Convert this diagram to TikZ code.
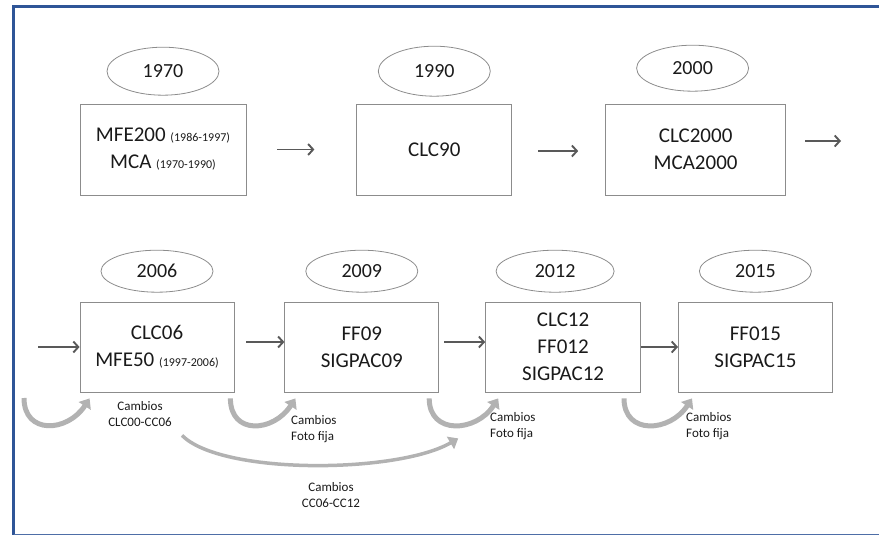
\documentclass[tikz,border=0pt]{standalone}
\usepackage{fontspec}
\setmainfont{Carlito}
\usepackage{tikz}
\usetikzlibrary{shapes.geometric, arrows.meta, positioning, calc}
\definecolor{framebl}{HTML}{2F5597}
\definecolor{linegray}{HTML}{595959}
\definecolor{boxgray}{HTML}{8C8C8C}
\definecolor{txt}{HTML}{1A1A1A}
\tikzstyle{period} = [rectangle, draw=boxgray, line width=0.8pt, minimum height=91pt, inner sep=0pt, text centered, align=center, text=txt, font=\fontsize{21}{27}\selectfont]
\tikzstyle{year} = [ellipse, draw=boxgray, line width=0.8pt, minimum width=112pt, minimum height=48pt, inner sep=0pt, text=txt, font=\fontsize{20}{24}\selectfont]
\tikzstyle{arrow} = [line width=1.9pt, draw=linegray, -{Straight Barb[length=5pt,width=11pt]}]
\tikzstyle{cambio} = [line width=5pt, draw=gray!60, -{Triangle[length=9pt,width=14pt]}]
\tikzstyle{note} = [inner sep=0pt, text=txt, font=\fontsize{13}{16}\selectfont]
\newcommand{\fecha}[1]{{\fontsize{12}{14}\selectfont #1}}

\begin{document}
\begin{tikzpicture}[x=1pt, y=-1pt]
    \useasboundingbox (0,0) rectangle (879,536);
    % Frame
    \draw[framebl, line width=3pt] (879,6) -- (13.5,6) -- (13.5,535);
    \draw[framebl!85, line width=1.5pt] (13.5,534.5) -- (879,534.5);

    % First row
    \node[period, minimum width=166pt] (b70) at (163,149.5) {MFE200 \fecha{(1986-1997)}\\MCA \fecha{(1970-1990)}};
    \node[period, minimum width=155pt, right=110pt of b70] (b90) {CLC90};
    \node[period, minimum width=180pt, right=93pt of b90] (b00) {CLC2000\\MCA2000};
    \node[year, above=8pt of b70] (e70) {1970};
    \node[year, above=7pt of b90, minimum height=50pt] (e90) {1990};
    \node[year, above=12pt of b00, xshift=-3pt, minimum height=46pt] (e00) {2000};

    % Second row
    \node[period, minimum width=154pt, minimum height=90pt] (b06) at (157,347) {CLC06\\MFE50 \fecha{(1997-2006)}};
    \node[period, minimum width=154pt, minimum height=90pt, right=50pt of b06] (b09) {FF09\\SIGPAC09};
    \node[period, minimum width=155pt, minimum height=90pt, right=46pt of b09] (b12) {CLC12\\FF012\\SIGPAC12};
    \node[period, minimum width=154pt, minimum height=90pt, right=37pt of b12] (b15) {FF015\\SIGPAC15};
    \node[year, above=9pt of b06, minimum height=42pt] (e06) {2006};
    \node[year, above=9pt of b09, minimum height=42pt] (e09) {2009};
    \node[year, above=9pt of b12, minimum height=42pt, minimum width=118pt, xshift=-8pt] (e12) {2012};
    \node[year, above=9pt of b15, minimum height=42pt] (e15) {2015};

    % Timeline arrows
    \coordinate (out00) at (841,141);
    \coordinate (in06) at (38,347);
    \draw[arrow] ([xshift=31pt]b70.east) -- ([xshift=-42pt]b90.west);
    \draw[arrow] ([xshift=26pt,yshift=-1.5pt]b90.east) -- ([xshift=-27pt,yshift=-1.5pt]b00.west);
    \draw[arrow] ([xshift=19pt,yshift=8.5pt]b00.east) -- (out00);
    \draw[arrow] (in06) -- (b06.west);
    \draw[arrow] ([xshift=12pt,yshift=5pt]b06.east) -- ([yshift=5pt]b09.west);
    \draw[arrow] ([xshift=5pt,yshift=5pt]b09.east) -- ([yshift=5pt]b12.west);
    \draw[arrow] (b12.east) -- (b15.west);

    % Change arrows
    \coordinate (u1s) at (24,398);
    \coordinate (u1e) at ($(b06.south west)+(10,6)$);
    \coordinate (u2s) at ($(b06.south east)+(-4,6)$);
    \coordinate (u2e) at ($(b09.south west)+(11,6)$);
    \coordinate (u3s) at ($(b09.south east)+(-10,6)$);
    \coordinate (u3e) at ($(b12.south west)+(13,6)$);
    \coordinate (u4s) at ($(b12.south east)+(-17,6)$);
    \coordinate (u4e) at ($(b15.south west)+(14,6)$);
    \coordinate (cs) at ($(b06.south)+(25,43)$);
    \coordinate (ce) at ($(b12.south west)+(-27,46)$);
    \draw[cambio] (u1s) .. controls +(0,37) and +(-22,34) .. (u1e);
    \draw[cambio] (u2s) .. controls +(0,37) and +(-22,34) .. (u2e);
    \draw[cambio] (u3s) .. controls +(0,37) and +(-22,34) .. (u3e);
    \draw[cambio] (u4s) .. controls +(0,37) and +(-22,34) .. (u4e);
    \draw[cambio, line width=3.5pt] (cs) .. controls +(40,40) and +(-60,35) .. (ce);

    % Labels
    \node[note, align=center] (n1) at (140,414) {Cambios\\CLC00-CC06};
    \node[note, align=left, anchor=west] (n2) at (291,429) {Cambios\\Foto fija};
    \node[note, align=left, anchor=west] (n3) at (490,426) {Cambios\\Foto fija};
    \node[note, align=left, anchor=west] (n4) at (686,426) {Cambios\\Foto fija};
    \node[note, align=center] (n5) at (331,495.5) {Cambios\\CC06-CC12};

\end{tikzpicture}
\end{document}
